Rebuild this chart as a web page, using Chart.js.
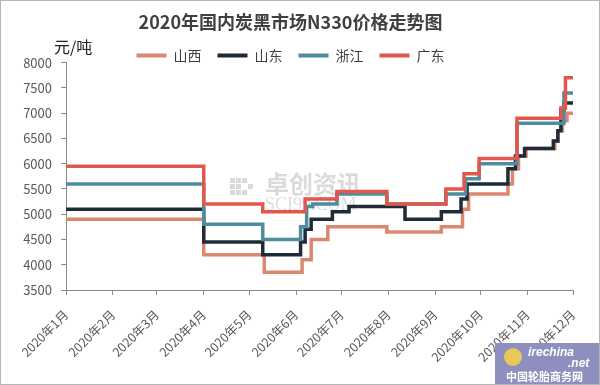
<!DOCTYPE html>
<html>
<head>
<meta charset="utf-8">
<script src="https://cdn.jsdelivr.net/npm/chart.js@4.4.1/dist/chart.umd.min.js"></script>
<style>
  html, body { margin: 0; padding: 0; background: #fff; }
  #wrap { width: 600px; height: 385px; }
</style>
</head>
<body>
<div id="wrap"><canvas id="priceChart" width="600" height="385"></canvas></div>
<script>
// chart text
const titleText = '2020年国内炭黑市场N330价格走势图';
const unitText = '元/吨';

// x axis: day of year (0 = 1 Jan) at each month start
const monthLabels = ['2020年1月', '2020年2月', '2020年3月', '2020年4月', '2020年5月', '2020年6月',
                     '2020年7月', '2020年8月', '2020年9月', '2020年10月', '2020年11月', '2020年12月'];
const monthDays = [0, 31, 60, 91, 121, 152, 182, 213, 244, 274, 305, 335];

// y axis
const yMin = 3500;
const yMax = 8000;
const yStep = 500;

const seriesNames = ['山西', '山东', '浙江', '广东'];
const seriesColors = ['#DC8871', '#1E2B38', '#4E8CA0', '#E2574C'];

// [day, 元/吨] at each price change
const shanxi = [[0, 4900], [91, 4200], [131, 3850], [156, 4100], [162, 4500], [173, 4750], [212, 4650],
                [248, 4750], [262, 5100], [266, 5400], [292, 5600], [295, 5900], [299, 6150], [304, 6300],
                [323, 6450], [325, 6650], [328, 6850], [331, 7000], [335, 7000]];
const shandong = [[0, 5100], [91, 4450], [130, 4200], [155, 4450], [158, 4700], [162, 4900], [176, 5050],
                  [187, 5150], [224, 4900], [248, 5050], [261, 5300], [265, 5600], [292, 5900], [297, 6150],
                  [303, 6300], [322, 6450], [325, 6650], [327, 7050], [329, 7200], [335, 7200]];
const zhejiang = [[0, 5600], [91, 4800], [130, 4500], [155, 4750], [159, 5150], [163, 5200], [179, 5400],
                  [212, 5200], [251, 5400], [264, 5700], [273, 6000], [298, 6800], [329, 7400], [335, 7400]];
const guangdong = [[0, 5950], [91, 5200], [130, 5050], [158, 5300], [179, 5450], [212, 5200], [251, 5500],
                   [263, 5800], [273, 6100], [298, 6900], [327, 7100], [330, 7700], [335, 7700]];

const allSeries = [shanxi, shandong, zhejiang, guangdong];

Chart.defaults.font.family = '"Noto Sans CJK SC", "Noto Sans", sans-serif';

const axisGrey = '#8a8a8a';
const tickGrey = '#595959';

// extra drawing: unit label, watermark, logo box, frame
const decorPlugin = {
    id: 'decor',
    beforeDatasetsDraw(chart) {
        const ctx = chart.ctx;
        ctx.save();
        ctx.fillStyle = 'rgba(150,150,150,0.35)';
        for (let i = 0; i < 4; i++) {
            for (let j = 0; j < 3; j++) {
                if (i < 2 || (i + j) % 2 === 0) ctx.fillRect(230 + i * 6, 178 + j * 6, 5, 5);
            }
        }
        ctx.font = 'bold 24px "Noto Sans CJK SC"';
        ctx.textBaseline = 'middle';
        ctx.fillText('卓创资讯', 265, 184);
        ctx.fillStyle = 'rgba(170,170,170,0.4)';
        ctx.font = '18px "Liberation Serif"';
        ctx.fillText('SCI99.COM', 265, 205);
        ctx.restore();
    },
    afterDraw(chart) {
        const ctx = chart.ctx;
        ctx.save();
        ctx.fillStyle = '#222';
        ctx.font = '16px "Noto Sans CJK SC"';
        ctx.textBaseline = 'middle';
        ctx.fillText(unitText, 54, 47);

        ctx.fillStyle = '#8D90BE';
        ctx.fillRect(495, 343, 105, 42);
        ctx.fillStyle = '#E8C85A';
        ctx.beginPath();
        ctx.arc(513, 357, 9, 0, Math.PI * 2);
        ctx.fill();
        ctx.fillStyle = '#fff';
        ctx.font = 'italic bold 12px "Liberation Sans"';
        ctx.fillText('irechina', 528, 353);
        ctx.fillText('.net', 568, 364);
        ctx.font = 'bold 11px "Noto Sans CJK SC"';
        ctx.fillText('中国轮胎商务网', 506, 377);

        ctx.strokeStyle = '#b5b5b5';
        ctx.lineWidth = 1;
        ctx.strokeRect(0.5, 0.5, 599, 384);
        ctx.restore();
    }
};

new Chart(document.getElementById('priceChart'), {
    type: 'line',
    data: {
        datasets: allSeries.map((s, i) => ({
            label: seriesNames[i],
            data: s.map(p => ({ x: p[0], y: p[1] })),
            borderColor: seriesColors[i],
            backgroundColor: seriesColors[i],
            borderWidth: 3.5,
            pointRadius: 0,
            stepped: true,
            order: 3 - i
        }))
    },
    options: {
        responsive: false,
        animation: false,
        devicePixelRatio: 1,
        layout: { padding: { left: 8, right: 27, top: 0, bottom: 0 } },
        plugins: {
            title: {
                display: true,
                text: titleText,
                color: '#404040',
                font: { size: 18, weight: 'bold' },
                padding: { top: 11, bottom: 0 }
            },
            legend: {
                position: 'top',
                maxHeight: 30,
                labels: {
                    boxWidth: 30,
                    boxHeight: 4,
                    padding: 16,
                    color: '#404040',
                    font: { size: 14 },
                    sort: (a, b) => a.datasetIndex - b.datasetIndex,
                    generateLabels: chart => Chart.defaults.plugins.legend.labels.generateLabels(chart)
                        .map(l => Object.assign(l, { lineWidth: 0 }))
                }
            },
            tooltip: { enabled: false }
        },
        scales: {
            x: {
                type: 'linear',
                min: monthDays[0],
                max: monthDays[monthDays.length - 1],
                afterBuildTicks: scale => { scale.ticks = monthDays.map(v => ({ value: v })); },
                afterFit: scale => { scale.height = 95; },
                grid: { drawOnChartArea: false, drawTicks: true, tickLength: 5, color: axisGrey },
                border: { display: true, color: axisGrey },
                ticks: {
                    autoSkip: false,
                    maxRotation: 45,
                    minRotation: 45,
                    padding: 12,
                    color: tickGrey,
                    font: { size: 12.5 },
                    callback: value => monthLabels[monthDays.indexOf(value)]
                }
            },
            y: {
                min: yMin,
                max: yMax,
                afterFit: scale => { scale.width = 58; },
                grid: { drawOnChartArea: false, drawTicks: true, tickLength: 5, color: axisGrey },
                border: { display: true, color: axisGrey },
                ticks: {
                    stepSize: yStep,
                    padding: 9,
                    color: tickGrey,
                    font: { size: 13 },
                    callback: value => String(value)
                }
            }
        }
    },
    plugins: [decorPlugin]
});
</script>
</body>
</html>
